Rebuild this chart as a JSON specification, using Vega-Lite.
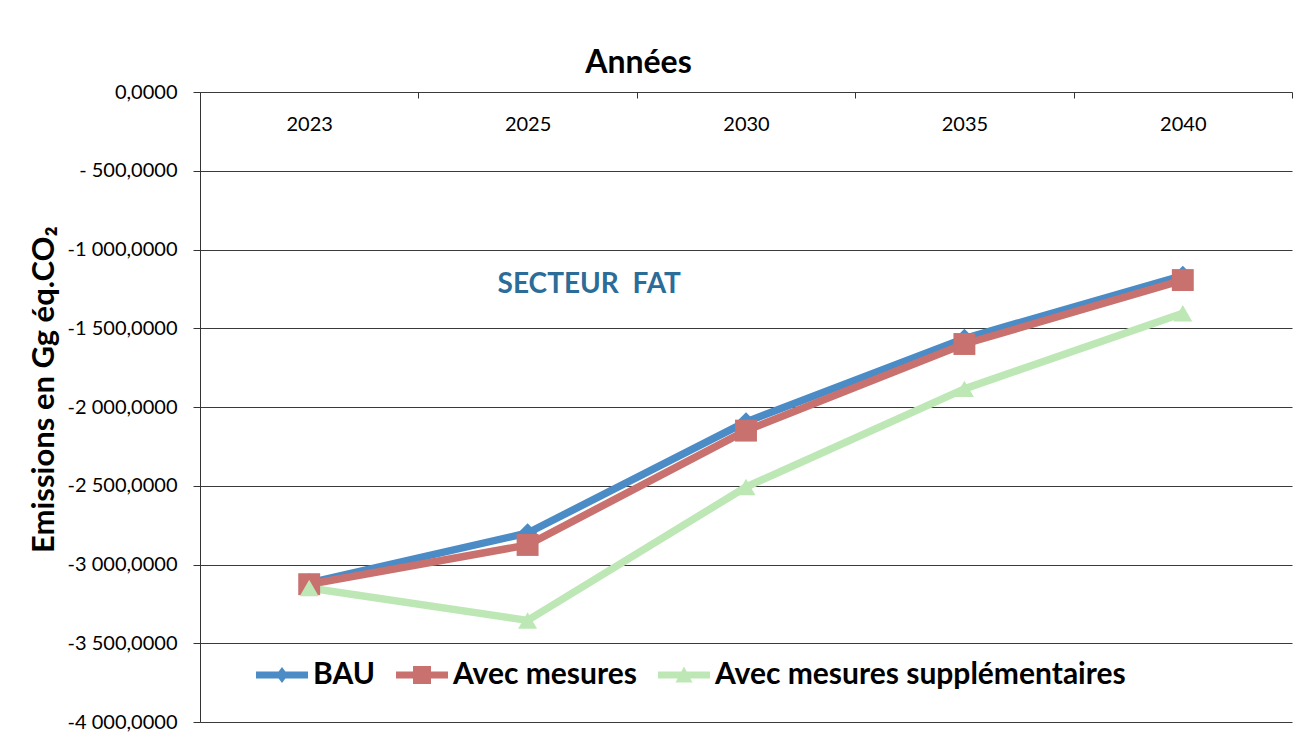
{
  "$schema": "https://vega.github.io/schema/vega-lite/v6.json",
  "width": 1092,
  "height": 630,
  "autosize": "none",
  "padding": {"left": 200, "top": 92, "right": 9, "bottom": 20},
  "background": "white",
  "config": {
    "font": "Lato",
    "view": {"stroke": null},
    "locale": {"number": {"decimal": ",", "thousands": " ", "grouping": [3], "currency": ["", ""], "minus": "-"}}
  },
  "datasets": {
    "emissions": [
      {"year": "2023", "series": "BAU", "value": -3117},
      {"year": "2025", "series": "BAU", "value": -2800},
      {"year": "2030", "series": "BAU", "value": -2095},
      {"year": "2035", "series": "BAU", "value": -1565},
      {"year": "2040", "series": "BAU", "value": -1165},
      {"year": "2023", "series": "Avec mesures", "value": -3125},
      {"year": "2025", "series": "Avec mesures", "value": -2876},
      {"year": "2030", "series": "Avec mesures", "value": -2150},
      {"year": "2035", "series": "Avec mesures", "value": -1600},
      {"year": "2040", "series": "Avec mesures", "value": -1194},
      {"year": "2023", "series": "Avec mesures supplémentaires", "value": -3149},
      {"year": "2025", "series": "Avec mesures supplémentaires", "value": -3355},
      {"year": "2030", "series": "Avec mesures supplémentaires", "value": -2508},
      {"year": "2035", "series": "Avec mesures supplémentaires", "value": -1885},
      {"year": "2040", "series": "Avec mesures supplémentaires", "value": -1405}
    ]
  },
  "encoding": {
    "x": {
      "field": "year",
      "type": "ordinal",
      "sort": null,
      "scale": {"type": "band", "paddingInner": 0, "paddingOuter": 0, "domain": ["2023", "2025", "2030", "2035", "2040"]},
      "axis": {
        "orient": "top",
        "title": "Années",
        "titleFont": "Lato",
        "titleFontSize": 32,
        "titleFontWeight": "bold",
        "titleColor": "black",
        "titleX": 438,
        "titleY": -20,
        "titleAlign": "center",
        "titleBaseline": "alphabetic",
        "labelFont": "Lato",
        "labelFontSize": 20,
        "labelColor": "black",
        "labelAngle": 0,
        "labelPadding": -36,
        "tickBand": "extent",
        "tickSize": -6,
        "tickColor": "#333333",
        "domain": false,
        "grid": false
      }
    },
    "y": {
      "field": "value",
      "type": "quantitative",
      "scale": {"domain": [-4000, 0], "nice": false, "zero": false},
      "axis": {
        "title": "Emissions en Gg éq.CO₂",
        "titleFont": "Lato",
        "titleFontSize": 31,
        "titleFontWeight": "bold",
        "titleColor": "black",
        "titleX": -147,
        "titleY": 297,
        "titleAlign": "center",
        "titleBaseline": "alphabetic",
        "titleAngle": -90,
        "values": [0, -500, -1000, -1500, -2000, -2500, -3000, -3500, -4000],
        "format": ",.4f",
        "labelExpr": "datum.value === -500 ? '- 500,0000' : datum.label",
        "labelFont": "Lato",
        "labelFontSize": 20,
        "labelColor": "black",
        "labelPadding": 16,
        "tickSize": 7,
        "tickColor": "#333333",
        "domainColor": "#333333",
        "grid": true,
        "gridColor": "#3a3a3a",
        "gridWidth": 1.2
      }
    }
  },
  "layer": [
    {
      "data": {"name": "emissions"},
      "mark": {"type": "line", "strokeWidth": 7.5, "strokeJoin": "round"},
      "encoding": {
        "stroke": {
          "field": "series",
          "type": "nominal",
          "sort": null,
          "scale": {"domain": ["BAU", "Avec mesures", "Avec mesures supplémentaires"], "range": ["#4b8bc6", "#c9716e", "#bde8b5"]},
          "legend": {
            "orient": "none",
            "legendX": 67,
            "legendY": 568,
            "direction": "horizontal",
            "title": null,
            "symbolSize": 400,
            "labelFont": "Lato",
            "labelFontSize": 30,
            "labelFontWeight": "bold",
            "labelColor": "black",
            "labelOffset": 16,
            "columnPadding": 21,
            "labelLimit": 800,
            "encode": {
              "symbols": {
                "update": {
                  "shape": {"signal": "datum.value === 'BAU' ? 'M-2.6,-0.35L2.6,-0.35L2.6,0.35L-2.6,0.35Z M-0.6,0L0,-0.8L0.6,0L0,0.8Z' : datum.value === 'Avec mesures' ? 'M-2.6,-0.35L2.6,-0.35L2.6,0.35L-2.6,0.35Z M-0.9,-0.9L0.9,-0.9L0.9,0.9L-0.9,0.9Z' : 'M-2.6,-0.35L2.6,-0.35L2.6,0.35L-2.6,0.35Z M-0.85,0.75L0,-0.85L0.85,0.75Z'"},
                  "fill": {"signal": "datum.value === 'BAU' ? '#4b8bc6' : datum.value === 'Avec mesures' ? '#c9716e' : '#bde8b5'"},
                  "fillOpacity": {"value": 1},
                  "strokeWidth": {"value": 0}
                }
              }
            }
          }
        }
      }
    },
    {
      "data": {"name": "emissions"},
      "transform": [{"filter": "datum.series === 'BAU'"}],
      "mark": {"type": "point", "filled": true, "opacity": 1, "shape": "diamond", "size": 380, "color": "#4b8bc6"}
    },
    {
      "data": {"name": "emissions"},
      "transform": [{"filter": "datum.series === 'Avec mesures'"}],
      "mark": {"type": "point", "filled": true, "opacity": 1, "shape": "square", "size": 480, "color": "#c9716e"}
    },
    {
      "data": {"name": "emissions"},
      "transform": [{"filter": "datum.series === 'Avec mesures supplémentaires'"}],
      "mark": {"type": "point", "filled": true, "opacity": 1, "shape": "triangle-up", "size": 360, "color": "#bde8b5"}
    },
    {
      "data": {"values": [{"year": "2025", "value": -1225, "label": "SECTEUR\u00a0\u00a0FAT"}]},
      "mark": {"type": "text", "align": "left", "baseline": "middle", "dx": -30, "font": "Lato", "fontSize": 28, "fontWeight": "bold", "color": "#2b6c98"},
      "encoding": {"text": {"field": "label"}}
    }
  ]
}
